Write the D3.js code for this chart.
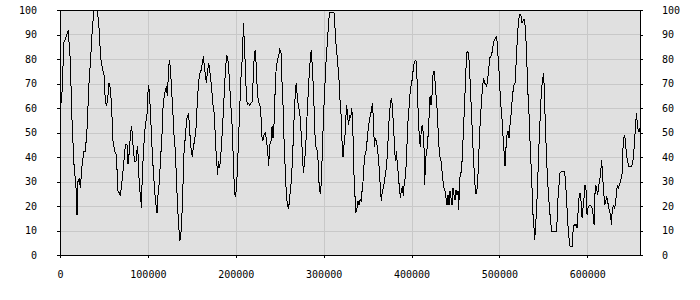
<!DOCTYPE html>
<html><head><meta charset="utf-8">
<script src="https://cdn.jsdelivr.net/npm/d3@7"></script>
<style>
body{margin:0;background:#fff}
svg{display:block}
text{font-family:"DejaVu Sans Mono",monospace;font-size:10px;fill:#000}
</style>
</head><body>
<svg id="c" width="700" height="300"></svg>
<script>
const xValues = [
0,2000,4500,6000,8350,9480,10240,12140,12900,14410,15930,18210,19350,20480,22000,23140,25410,27310,28830,31100,32620,34900,36800,38690,42480,44380,46280,48170,50070,51590,53100,54620,55760,57280,58790,60310,62210,64110,66000,67520,68660,70560,72450,74350,76250,77380,78900,80420,81560,82700,83830,
84970,86490,88000,89140,90280,91800,92560,93690,94830,96350,97870,99000,99760,100900,102040,103180,104700,106210,107730,109250,110390,111520,113040,114560,116080,117210,118730,120250,121010,122140,123280,124420,125560,126700,128210,129730,131250,132770,133900,135040,136180,137320,138460,139590,140730,141870,143390,144530,146040,147180,148320,149460,150590,151730,153250,154770,156290,157800,159320,160840,161970,163110,164250,165390,166520,167660,
169190,170320,171460,172980,174110,175630,176770,177910,179420,180180,181320,182460,183600,185110,186630,188150,189670,190800,191940,193080,194220,195350,196490,197630,198770,199910,201050,202180,203320,204460,205600,206740,207870,208630,209770,210910,212050,213180,214700,215840,217360,218870,220010,221150,222290,223430,224560,225700,227220,228360,229500,230640,232150,233670,235190,236330,237460,238600,240120,241260,242390,243530,244670,245810,247330,248840,249980,251500,
253020,253770,254530,255670,256810,257950,259080,260220,261360,262500,263630,264770,265910,267050,268190,268950,270080,271220,272360,273500,274630,275770,276910,278050,279190,280320,281460,282600,283740,284880,286020,287150,288290,289430,290570,292080,293220,294360,295500,296640,297770,298910,300050,301190,302330,303470,304600,305740,306880,309540,311810,312950,314090,315600,316740,317880,319020,320160,320920,322050,323190,324330,325470,326230,327370,328500,329640,330780,331920,333060,334190,335330,336470,
337990,339120,340260,341400,342540,343680,344810,345950,347090,348230,349370,350500,351640,353160,354300,355430,356570,357710,358850,359990,361120,362260,363400,364540,365680,366810,367950,369090,370230,371370,372500,373640,374780,375920,377060,378190,379330,380470,381610,382750,383880,385020,386160,387300,388440,389570,390710,391850,392990,394130,395260,396400,397540,398680,399820,400950,402090,403230,404370,405510,406640,407780,408920,410060,411200,412330,413470,414610,414990,415750,416890,418020,419160,420300,
421060,422200,423340,424470,425610,426750,427890,429030,430160,431300,432440,433580,434720,435850,436990,438130,439270,440410,441540,442680,443820,444960,446100,447230,448370,449510,450650,451790,452920,453680,454820,455960,457100,458240,459370,460510,461650,462790,463930,465060,466200,467340,468480,469620,470750,471890,473030,474170,475310,476440,477580,478720,479860,481000,482130,483270,484410,485550,486690,487820,488960,490100,491240,492380,493510,494650,495790,496930,498070,499200,500340,501480,502620,503760,504890,
506410,507550,508690,509820,510960,512100,513240,514380,515510,516650,517790,518930,520070,521200,522340,523480,524620,525760,526890,528030,529170,530310,531450,532580,533720,534860,536000,537140,538270,539410,540170,541310,542450,543590,544720,545860,547000,548140,549280,550410,551550,552690,553830,554970,556100,557240,558380,559520,561790,564450,565590,566720,567860,569000,571280,574310,575450,576590,577730,578870,580380,582660,583790,584930,586070,587210,588350,589110,
590620,591760,592900,594040,595170,596310,597450,598590,599730,600860,602000,603140,604280,605420,606550,607690,608450,609590,610730,611860,613000,614140,615280,616420,617550,618690,619830,620970,622110,623240,624380,625520,626660,627420,628550,629690,630830,631970,633110,634240,635380,636520,637660,638800,639930,640690,641450,642590,643730,644870,646000,647140,650560,651690,652830,653970,655110,655870,657010,658150,659290,660040
];
const yValues = [
59,64,87,88,90.5,92,87,77.7,61.3,49,37,27.3,16.5,30,31,27.3,38,42.3,42.3,53,68,80.4,92.7,100,100,92.7,80.4,76.3,73.6,62.7,60.7,65.4,70.2,68.2,60,46.4,42.3,41,26,25.3,24,30,37,45,45,37,42.3,50.5,52.5,46.4,41.6,
38.2,38.2,44.4,40,27.3,24,19.2,32.8,41,50.5,54.6,57.3,64.8,69.5,64.8,56,44,34.2,26,20.5,17.1,24.6,30,40,49.1,60,65.4,67.5,69,64.8,73.6,79.7,76.3,69.5,60,49.1,42.3,28.7,19.2,12.4,5.6,7,13.7,23.4,40,45,51.8,56,57.3,53.9,46.4,42.3,40,44,47,51.8,62.7,70.9,74.3,75.6,78.4,81,77,73.6,70.2,74.3,
78.4,75.6,72.1,66.1,61.3,57.3,47.8,40,32.8,38.2,35.5,38.2,44,53.2,64,74.9,81.8,80.4,76.3,69.5,61.3,57.3,46.4,34.2,24.6,24,28.7,38.2,49.1,58.6,70.9,76.3,83.1,94.7,87,76.3,65.4,61.3,62,61.3,62,62.7,73.6,81.8,83.8,76.3,66.8,62.7,61.3,60,49.1,46.4,49.1,49.8,46.4,42.3,36.2,45,46.4,52.5,47.8,53.2,65.4,74.9,79.7,81,83.8,82.4,
66.8,61.3,50.5,41,30,23.4,19.9,19.2,23.4,27.3,32.8,41,51.8,61.3,68.2,70.2,64,61.3,58.6,56,47.8,42.3,33.5,36.9,42.3,49.1,60,66.8,74.9,80.4,83.8,76.3,68.2,57.3,45,43,42.3,31.4,26,25.3,34.2,46.4,58.6,66.8,76.3,83.1,88.6,95.4,98.9,98.9,98.9,92.7,85.9,80.4,74.9,69.5,60,56,46.4,40,45,49.1,57.3,61.3,56,53.2,57.3,56,60,54.6,35.5,27.3,17.1,
19.2,21.9,20.5,22.6,21.9,26,30,36.9,41,42.3,46.4,50.5,53.9,57.3,58.6,62,56,44,47.8,46.4,44,40,34.2,27.3,21.9,26.6,27.3,30,32.8,35.5,41,49.1,57.3,61.3,64,61.3,53.2,46.4,38.2,42.3,36.9,32.8,27.3,23.4,26,28,24,30,31.4,38.2,49.1,57.3,61.3,68.2,69.5,72.1,76.3,79,79.3,79,68.2,56,47.8,44,51.8,53.2,49.1,41,28.7,36.9,42.3,44,50.5,58.6,
64.8,61.3,65.4,73.6,74.9,70.9,65.4,60,51.8,44,40,38.2,34.2,30,27.3,26,23.4,20.5,24.6,20.5,26,23.4,20.5,27.3,24.6,22.6,26.6,24.6,26,18.5,31.4,32.8,35.5,44,53.2,62.7,73.6,82.4,83.1,81.8,74.9,65.4,56,46.4,38.2,30,25.3,25.3,30,40,50.5,57.3,64,69.5,72.1,70.2,69.5,68.8,72.1,75.6,80.4,81,81.8,84.5,87.2,87.9,88.6,89.3,83.1,77.7,69.5,61.3,57.9,50.5,44.4,
36.2,44,49.1,50.5,47.8,53.2,57.3,62.7,66.8,69.5,70.2,77.7,85.9,92.7,96.8,98.4,97.5,94.7,95.4,96.1,94,87.2,76.3,65.4,57.3,46.4,36.9,27.3,16.5,11.1,6.3,12.4,19.2,30,42.3,51.8,61.3,68.2,72.1,74.3,61.3,49.1,38.2,30,23.4,17.9,13.7,9.4,9.4,9.4,13.7,23.4,28.7,33.5,34.2,34.2,28.7,21.9,13.7,8.2,3.5,3.5,9.5,12.4,12,12.4,11.1,15.2,
23.4,25.3,21.9,15.2,19.2,23.4,28.7,26.6,16.5,19.2,19.9,20.5,19.9,19.2,16.5,12.4,23.4,28.7,26.6,24.6,28.7,30,34.2,38.9,31.4,26,20.5,21.9,24,21.9,19.2,17.9,15.8,12.4,19.2,19.9,19.2,20.5,24.6,28.7,27.3,28.7,30,31.4,34.2,44,47.8,49.1,45,40,38.2,36.2,36.2,37.5,41,47.8,53.2,58,53.2,50.5,51.2,50.3
];
const xTicks = [0,100000,200000,300000,400000,500000,600000];
const yTicks = [0,10,20,30,40,50,60,70,80,90,100];
const xMax = 660000;

const data = xValues.map((v,i)=>({x:v,y:yValues[i]}));
const svg = d3.select('#c');
const x = d3.scaleLinear().domain([0,xMax]).range([60,640]);
const y = d3.scaleLinear().domain([0,100]).range([255,10]);

svg.append('rect').attr('x',60).attr('y',10).attr('width',580).attr('height',245).attr('fill','#e0e0e0');

const g = svg.append('g').attr('shape-rendering','crispEdges');
g.selectAll('.vg').data(xTicks.slice(1)).join('line')
  .attr('x1',d=>Math.round(x(d))+0.5).attr('x2',d=>Math.round(x(d))+0.5)
  .attr('y1',10).attr('y2',255).attr('stroke','#c8c8c8');
g.selectAll('.hg').data(yTicks.slice(1,-1)).join('line')
  .attr('y1',d=>Math.round(y(d))+0.5).attr('y2',d=>Math.round(y(d))+0.5)
  .attr('x1',60).attr('x2',640).attr('stroke','#c8c8c8');

svg.append('path').datum(data)
  .attr('fill','none').attr('stroke','#000').attr('stroke-width',1)
  .attr('shape-rendering','crispEdges')
  .attr('d', d3.line().x(d=>x(d.x)).y(d=>y(d.y)));

const fmt = d3.format('d');
const ax = svg.append('g').attr('transform','translate(0,255)')
  .call(d3.axisBottom(x).tickValues(xTicks).tickFormat(fmt).tickSizeInner(3).tickSizeOuter(0).tickPadding(13));
const ayl = svg.append('g').attr('transform','translate(60,0)')
  .call(d3.axisLeft(y).tickValues(yTicks).tickFormat(fmt).tickSizeInner(3).tickSizeOuter(0).tickPadding(20));
const ayr = svg.append('g').attr('transform','translate(640,0)')
  .call(d3.axisRight(y).tickValues(yTicks).tickFormat(fmt).tickSizeInner(3).tickSizeOuter(0).tickPadding(19));
[ax,ayl,ayr].forEach(a=>{
  a.attr('font-family',null).attr('font-size',null);
  a.selectAll('path,line').attr('stroke','#000').attr('shape-rendering','crispEdges');
});
svg.append('line').attr('x1',60).attr('x2',641).attr('y1',10.5).attr('y2',10.5)
  .attr('stroke','#000').attr('shape-rendering','crispEdges');
</script>
</body></html>
